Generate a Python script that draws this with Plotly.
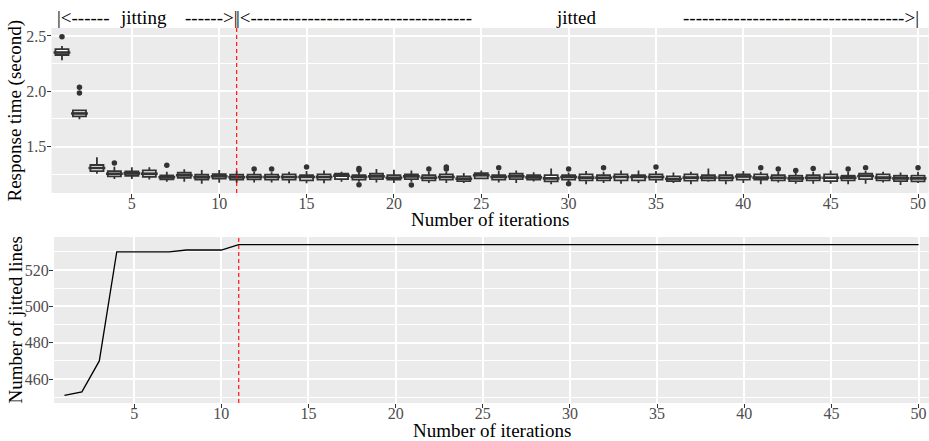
import plotly.graph_objects as go

# ---------------- data ----------------
iterations = list(range(1, 51))

lower_whisker = [2.280, 1.747, 1.255, 1.207, 1.207, 1.204, 1.183, 1.183, 1.165, 1.174,
                 1.174, 1.177, 1.177, 1.168, 1.168, 1.168, 1.183, 1.183, 1.177, 1.171,
                 1.183, 1.171, 1.171, 1.171, 1.207, 1.177, 1.171, 1.186, 1.159, 1.183,
                 1.159, 1.171, 1.165, 1.171, 1.171, 1.171, 1.159, 1.183, 1.159, 1.171,
                 1.159, 1.177, 1.165, 1.165, 1.165, 1.159, 1.165, 1.177, 1.153, 1.171]
q1_values = [2.328, 1.774, 1.279, 1.231, 1.237, 1.228, 1.204, 1.219, 1.201, 1.210,
             1.201, 1.204, 1.201, 1.201, 1.195, 1.201, 1.207, 1.201, 1.207, 1.201,
             1.207, 1.195, 1.201, 1.189, 1.213, 1.201, 1.207, 1.201, 1.186, 1.201,
             1.195, 1.195, 1.195, 1.195, 1.201, 1.189, 1.192, 1.195, 1.195, 1.201,
             1.201, 1.195, 1.189, 1.195, 1.189, 1.195, 1.207, 1.195, 1.189, 1.186]
median_values = [2.350, 1.800, 1.307, 1.255, 1.258, 1.255, 1.223, 1.241, 1.223, 1.232,
                 1.223, 1.225, 1.225, 1.225, 1.225, 1.225, 1.238, 1.225, 1.231, 1.219,
                 1.231, 1.219, 1.225, 1.210, 1.241, 1.225, 1.231, 1.222, 1.213, 1.225,
                 1.220, 1.219, 1.225, 1.225, 1.225, 1.208, 1.220, 1.220, 1.219, 1.230,
                 1.220, 1.219, 1.213, 1.219, 1.219, 1.219, 1.235, 1.220, 1.213, 1.213]
q3_values = [2.382, 1.828, 1.334, 1.279, 1.277, 1.286, 1.241, 1.264, 1.246, 1.252,
             1.246, 1.247, 1.247, 1.249, 1.243, 1.249, 1.255, 1.243, 1.255, 1.243,
             1.249, 1.243, 1.249, 1.232, 1.261, 1.243, 1.255, 1.243, 1.243, 1.243,
             1.249, 1.243, 1.249, 1.243, 1.249, 1.231, 1.249, 1.243, 1.243, 1.249,
             1.249, 1.243, 1.237, 1.243, 1.249, 1.237, 1.255, 1.249, 1.237, 1.238]
upper_whisker = [2.410, 1.833, 1.403, 1.318, 1.313, 1.313, 1.274, 1.295, 1.288, 1.288,
                 1.282, 1.273, 1.268, 1.273, 1.280, 1.285, 1.273, 1.273, 1.297, 1.291,
                 1.285, 1.273, 1.273, 1.262, 1.285, 1.279, 1.285, 1.268, 1.303, 1.267,
                 1.279, 1.273, 1.285, 1.285, 1.279, 1.267, 1.273, 1.303, 1.279, 1.279,
                 1.273, 1.273, 1.267, 1.273, 1.285, 1.273, 1.279, 1.273, 1.267, 1.273]

outlier_iteration = [1, 2, 2, 4, 7, 12, 13, 15, 18, 18, 18, 21, 22, 23, 23, 26,
                     30, 30, 32, 35, 41, 42, 43, 44, 46, 47, 50]
outlier_value = [2.494, 2.036, 1.985, 1.352, 1.331, 1.297, 1.297, 1.316, 1.303, 1.288,
                 1.156, 1.153, 1.297, 1.316, 1.297, 1.310, 1.297, 1.165, 1.310, 1.316,
                 1.310, 1.297, 1.285, 1.303, 1.297, 1.310, 1.310]

jitted_lines = [451, 453, 470, 530, 530, 530, 530, 531, 531, 531] + [534] * 40

split_iteration = 11

top_y_ticks = [1.5, 2.0, 2.5]
bottom_y_ticks = [460, 480, 500, 520]
x_ticks = [5, 10, 15, 20, 25, 30, 35, 40, 45, 50]

# ---------------- figure ----------------
W, H = 929, 441
FONT = "Liberation Serif"
GRID = "#FFFFFF"
PANEL = "#EBEBEB"
BOXLINE = "#333333"

fig = go.Figure()

fig.add_trace(go.Box(
    x=iterations, q1=q1_values, median=median_values, q3=q3_values,
    lowerfence=lower_whisker, upperfence=upper_whisker,
    width=0.75, whiskerwidth=0, boxpoints=False,
    fillcolor="white", line=dict(color=BOXLINE, width=1.8),
    xaxis="x", yaxis="y", showlegend=False, name="Response time",
))
# fat median bars (ggplot style)
fig.add_trace(go.Scatter(
    x=iterations, y=median_values, mode="markers",
    marker=dict(symbol="line-ew", size=12, line=dict(color=BOXLINE, width=2.6)),
    xaxis="x", yaxis="y", showlegend=False, name="median", hoverinfo="skip",
))
fig.add_trace(go.Scatter(
    x=outlier_iteration, y=outlier_value, mode="markers",
    marker=dict(color=BOXLINE, size=5.5),
    xaxis="x", yaxis="y", showlegend=False, name="outliers",
))
fig.add_trace(go.Scatter(
    x=iterations, y=jitted_lines, mode="lines",
    line=dict(color="black", width=1.3),
    xaxis="x2", yaxis="y2", showlegend=False, name="Jitted lines",
))

def px_x(a, b):
    return [a / W, b / W]

def px_y(top, bottom):
    return [1 - bottom / H, 1 - top / H]

axis_common = dict(
    showline=False, zeroline=False, ticks="outside", ticklen=4, tickwidth=1,
    tickcolor="#333333", gridcolor=GRID, gridwidth=1.8, automargin=False,
    tickfont=dict(family=FONT, size=16, color="#4D4D4D"),
)

fig.update_layout(
    width=W, height=H,
    margin=dict(l=0, r=0, t=0, b=0, pad=0, autoexpand=False),
    paper_bgcolor="white", plot_bgcolor=PANEL,
    font=dict(family=FONT),
    xaxis=dict(domain=px_x(51.5, 928.5), anchor="y", range=[0.4, 50.6],
               tickvals=x_ticks, ticklabelstandoff=-8, **axis_common),
    yaxis=dict(domain=px_y(28, 193), anchor="x", range=[1.081, 2.572],
               tickvals=top_y_ticks, ticktext=["1.5", "2.0", "2.5"],
               ticklabelstandoff=-3,
               minor=dict(tickvals=[1.25, 1.75, 2.25], showgrid=True, gridcolor=GRID,
                          gridwidth=1, ticks=""),
               **axis_common),
    xaxis2=dict(domain=px_x(54, 929), anchor="y2", range=[0.4, 50.6],
                tickvals=x_ticks, ticklabelstandoff=-8, **axis_common),
    yaxis2=dict(domain=px_y(237, 403), anchor="x2", range=[446.85, 538.15],
                tickvals=bottom_y_ticks, ticklabelstandoff=-3,
                minor=dict(tickvals=[450, 470, 490, 510, 530], showgrid=True,
                           gridcolor=GRID, gridwidth=1, ticks=""),
                **axis_common),
)

# axis titles
title_font = dict(family=FONT, size=19, color="black")
axis_titles = [
    ("Number of iterations", (51.5 + 928.5) / 2, 219, 0),
    ("Number of iterations", (54 + 929) / 2, 430, 0),
    ("Response time (second)", 15, 110.5, -90),
    ("Number of jitted lines", 14.5, 320, -90),
]
for text, xpx, ypx, ang in axis_titles:
    fig.add_annotation(text=text, x=xpx / W, y=1 - ypx / H, xref="paper", yref="paper",
                       xanchor="center", yanchor="middle", showarrow=False,
                       textangle=ang, font=title_font, borderpad=0)

# red dashed split lines
for xr, yr in (("x", "y"), ("x2", "y2")):
    fig.add_shape(type="line", xref=xr, yref=f"{yr} domain",
                  x0=split_iteration, x1=split_iteration, y0=0, y1=1,
                  line=dict(color="red", width=1.1, dash="4px,3px"))

# phase annotations
dash6 = "-" * 6
dash35 = "-" * 35
ann_y = 1 - 17 / H
phase_labels = [
    ("|<" + dash6, 0.68, "left"),
    ("jitting", 5.66, "center"),
    (dash6 + ">|", 11.1, "right"),
    ("|<" + dash35, 10.88, "left"),
    ("jitted", 30.46, "center"),
    (dash35 + ">|", 50.1, "right"),
]
for text, xv, anchor in phase_labels:
    fig.add_annotation(text=text, x=xv, xref="x", y=ann_y, yref="paper",
                       xanchor=anchor, yanchor="middle", showarrow=False,
                       font=title_font, borderpad=0)

fig.write_html("out.html",
               config={"displayModeBar": False},
               post_script="document.body.style.margin='0';document.body.style.overflow='hidden';")
